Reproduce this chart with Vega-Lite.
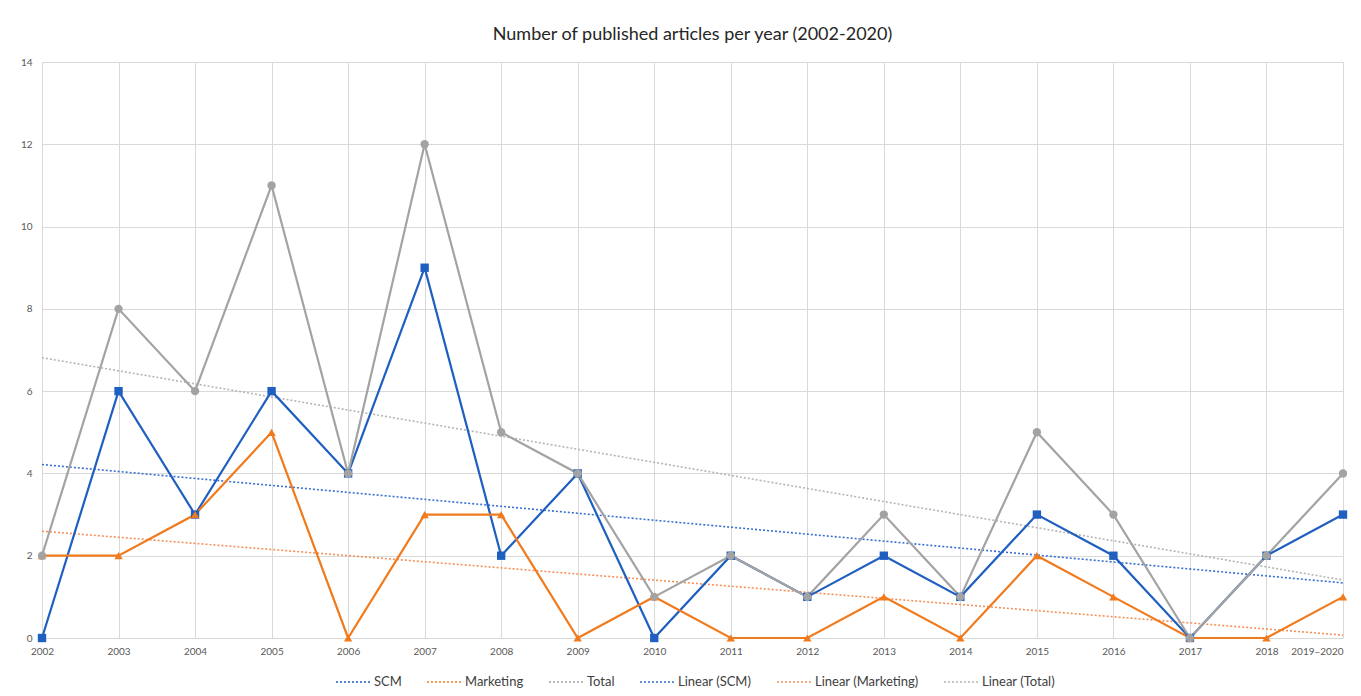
{
  "$schema": "https://vega.github.io/schema/vega-lite/v6.json",
  "autosize": {"type": "none"},
  "width": 1301,
  "height": 576,
  "padding": {"left": 42, "top": 62, "right": 18, "bottom": 58},
  "background": "white",
  "config": {
    "font": "Lato",
    "view": {"stroke": null},
    "axis": {"labelFont": "Lato", "labelColor": "#595959", "labelFontSize": 10, "gridColor": "#d9d9d9", "gridWidth": 1, "domain": false, "ticks": false, "title": null}
  },
  "title": {"text": "Number of published articles per year (2002-2020)", "fontSize": 18, "fontWeight": "normal", "color": "#262626", "font": "Lato", "anchor": "middle", "offset": 13},
  "data": {"values": [
    {"year": 2002, "period": "2002", "series": "SCM", "trend": "Linear (SCM)", "value": 0},
    {"year": 2003, "period": "2003", "series": "SCM", "trend": "Linear (SCM)", "value": 6},
    {"year": 2004, "period": "2004", "series": "SCM", "trend": "Linear (SCM)", "value": 3},
    {"year": 2005, "period": "2005", "series": "SCM", "trend": "Linear (SCM)", "value": 6},
    {"year": 2006, "period": "2006", "series": "SCM", "trend": "Linear (SCM)", "value": 4},
    {"year": 2007, "period": "2007", "series": "SCM", "trend": "Linear (SCM)", "value": 9},
    {"year": 2008, "period": "2008", "series": "SCM", "trend": "Linear (SCM)", "value": 2},
    {"year": 2009, "period": "2009", "series": "SCM", "trend": "Linear (SCM)", "value": 4},
    {"year": 2010, "period": "2010", "series": "SCM", "trend": "Linear (SCM)", "value": 0},
    {"year": 2011, "period": "2011", "series": "SCM", "trend": "Linear (SCM)", "value": 2},
    {"year": 2012, "period": "2012", "series": "SCM", "trend": "Linear (SCM)", "value": 1},
    {"year": 2013, "period": "2013", "series": "SCM", "trend": "Linear (SCM)", "value": 2},
    {"year": 2014, "period": "2014", "series": "SCM", "trend": "Linear (SCM)", "value": 1},
    {"year": 2015, "period": "2015", "series": "SCM", "trend": "Linear (SCM)", "value": 3},
    {"year": 2016, "period": "2016", "series": "SCM", "trend": "Linear (SCM)", "value": 2},
    {"year": 2017, "period": "2017", "series": "SCM", "trend": "Linear (SCM)", "value": 0},
    {"year": 2018, "period": "2018", "series": "SCM", "trend": "Linear (SCM)", "value": 2},
    {"year": 2019, "period": "2019–2020", "series": "SCM", "trend": "Linear (SCM)", "value": 3},
    {"year": 2002, "period": "2002", "series": "Marketing", "trend": "Linear (Marketing)", "value": 2},
    {"year": 2003, "period": "2003", "series": "Marketing", "trend": "Linear (Marketing)", "value": 2},
    {"year": 2004, "period": "2004", "series": "Marketing", "trend": "Linear (Marketing)", "value": 3},
    {"year": 2005, "period": "2005", "series": "Marketing", "trend": "Linear (Marketing)", "value": 5},
    {"year": 2006, "period": "2006", "series": "Marketing", "trend": "Linear (Marketing)", "value": 0},
    {"year": 2007, "period": "2007", "series": "Marketing", "trend": "Linear (Marketing)", "value": 3},
    {"year": 2008, "period": "2008", "series": "Marketing", "trend": "Linear (Marketing)", "value": 3},
    {"year": 2009, "period": "2009", "series": "Marketing", "trend": "Linear (Marketing)", "value": 0},
    {"year": 2010, "period": "2010", "series": "Marketing", "trend": "Linear (Marketing)", "value": 1},
    {"year": 2011, "period": "2011", "series": "Marketing", "trend": "Linear (Marketing)", "value": 0},
    {"year": 2012, "period": "2012", "series": "Marketing", "trend": "Linear (Marketing)", "value": 0},
    {"year": 2013, "period": "2013", "series": "Marketing", "trend": "Linear (Marketing)", "value": 1},
    {"year": 2014, "period": "2014", "series": "Marketing", "trend": "Linear (Marketing)", "value": 0},
    {"year": 2015, "period": "2015", "series": "Marketing", "trend": "Linear (Marketing)", "value": 2},
    {"year": 2016, "period": "2016", "series": "Marketing", "trend": "Linear (Marketing)", "value": 1},
    {"year": 2017, "period": "2017", "series": "Marketing", "trend": "Linear (Marketing)", "value": 0},
    {"year": 2018, "period": "2018", "series": "Marketing", "trend": "Linear (Marketing)", "value": 0},
    {"year": 2019, "period": "2019–2020", "series": "Marketing", "trend": "Linear (Marketing)", "value": 1},
    {"year": 2002, "period": "2002", "series": "Total", "trend": "Linear (Total)", "value": 2},
    {"year": 2003, "period": "2003", "series": "Total", "trend": "Linear (Total)", "value": 8},
    {"year": 2004, "period": "2004", "series": "Total", "trend": "Linear (Total)", "value": 6},
    {"year": 2005, "period": "2005", "series": "Total", "trend": "Linear (Total)", "value": 11},
    {"year": 2006, "period": "2006", "series": "Total", "trend": "Linear (Total)", "value": 4},
    {"year": 2007, "period": "2007", "series": "Total", "trend": "Linear (Total)", "value": 12},
    {"year": 2008, "period": "2008", "series": "Total", "trend": "Linear (Total)", "value": 5},
    {"year": 2009, "period": "2009", "series": "Total", "trend": "Linear (Total)", "value": 4},
    {"year": 2010, "period": "2010", "series": "Total", "trend": "Linear (Total)", "value": 1},
    {"year": 2011, "period": "2011", "series": "Total", "trend": "Linear (Total)", "value": 2},
    {"year": 2012, "period": "2012", "series": "Total", "trend": "Linear (Total)", "value": 1},
    {"year": 2013, "period": "2013", "series": "Total", "trend": "Linear (Total)", "value": 3},
    {"year": 2014, "period": "2014", "series": "Total", "trend": "Linear (Total)", "value": 1},
    {"year": 2015, "period": "2015", "series": "Total", "trend": "Linear (Total)", "value": 5},
    {"year": 2016, "period": "2016", "series": "Total", "trend": "Linear (Total)", "value": 3},
    {"year": 2017, "period": "2017", "series": "Total", "trend": "Linear (Total)", "value": 0},
    {"year": 2018, "period": "2018", "series": "Total", "trend": "Linear (Total)", "value": 2},
    {"year": 2019, "period": "2019–2020", "series": "Total", "trend": "Linear (Total)", "value": 4}
  ]},
  "encoding": {
    "x": {"field": "year", "type": "quantitative",
      "scale": {"domain": [2002, 2019], "nice": false, "zero": false},
      "axis": {"values": [2002,2003,2004,2005,2006,2007,2008,2009,2010,2011,2012,2013,2014,2015,2016,2017,2018,2019], "format": "d", "labelExpr": "datum.value == 2019 ? '2019–2020' : datum.label", "labelPadding": 8, "labelFlush": false, "labelOverlap": false,
        "labelAlign": {"condition": {"test": "datum.value == 2019", "value": "right"}, "value": "center"}}},
    "y": {"field": "value", "type": "quantitative",
      "scale": {"domain": [0, 14], "nice": false},
      "axis": {"values": [0,2,4,6,8,10,12,14], "labelPadding": 10}}
  },
  "layer": [
    {
      "transform": [{"regression": "value", "on": "year", "groupby": ["trend"], "extent": [2002, 2019]}],
      "mark": {"type": "line", "strokeDash": [2, 2], "strokeWidth": 1.6},
      "encoding": {
        "color": {"field": "trend", "type": "nominal"}
      }
    },
    {
      "mark": {"type": "line", "strokeWidth": 2.2},
      "encoding": {
        "color": {"field": "series", "type": "nominal",
          "scale": {"domain": ["SCM", "Marketing", "Total", "Linear (SCM)", "Linear (Marketing)", "Linear (Total)"],
                    "range": ["#1f5fc0", "#f07a1c", "#a3a3a3", "#3a6fd0", "#f5905a", "#b5b5b5"]},
          "legend": {
            "title": null, "orient": "none", "direction": "horizontal", "legendX": 293, "legendY": 602,
            "labelFontSize": 13, "labelColor": "#404040", "labelFont": "Lato", "symbolSize": 1156, "columnPadding": 22, "labelOffset": 3,
            "encode": {"symbols": {"update": {
              "shape": {"condition": [
                {"test": "datum.value === 'SCM'", "value": "M-1,0H1M-0.2,-0.2H0.2V0.2H-0.2Z"},
                {"test": "datum.value === 'Marketing'", "value": "M-1,0H1M0,-0.26L0.24,0.18H-0.24Z"},
                {"test": "datum.value === 'Total'", "value": "M-1,0H1M0.15,0L0.106,0.106L0,0.15L-0.106,0.106L-0.15,0L-0.106,-0.106L0,-0.15L0.106,-0.106Z"}
              ], "value": "M-1,0H1"},
              "stroke": {"condition": [
                {"test": "datum.value === 'SCM'", "value": "#1f5fc0"},
                {"test": "datum.value === 'Marketing'", "value": "#f07a1c"},
                {"test": "datum.value === 'Total'", "value": "#a3a3a3"},
                {"test": "datum.value === 'Linear (SCM)'", "value": "#3a6fd0"},
                {"test": "datum.value === 'Linear (Marketing)'", "value": "#f5905a"}
              ], "value": "#b5b5b5"},
              "strokeWidth": {"condition": {"test": "datum.value === 'SCM' || datum.value === 'Marketing' || datum.value === 'Total'", "value": 2.2}, "value": 1.5},
              "strokeDash": {"condition": {"test": "datum.value === 'SCM' || datum.value === 'Marketing' || datum.value === 'Total'", "value": [1, 0]}, "value": [2, 2]},
              "opacity": {"value": 1}
            }}}
          }}
      }
    },
    {
      "mark": {"type": "point", "filled": true, "opacity": 1, "size": 70},
      "encoding": {
        "color": {"field": "series", "type": "nominal"},
        "shape": {"field": "series", "type": "nominal",
          "scale": {"domain": ["SCM", "Marketing", "Total"], "range": ["square", "triangle-up", "circle"]}, "legend": null}
      }
    }
  ]
}
